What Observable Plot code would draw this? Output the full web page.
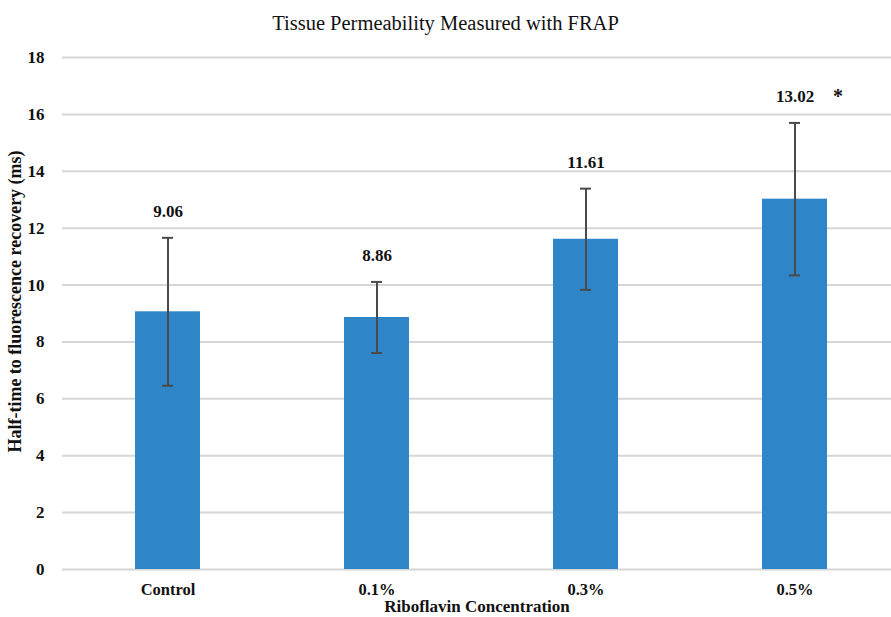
<!DOCTYPE html>
<html>
<head>
<meta charset="utf-8">
<script src="https://cdn.jsdelivr.net/npm/d3@7"></script>
<script src="https://cdn.jsdelivr.net/npm/@observablehq/plot@0.6"></script>
<style>
  body { margin: 0; background: #fff; }
  #wrap { width: 891px; font-family: "Liberation Serif", "Times New Roman", serif; }
  #title { height: 40px; line-height: 46px; text-align: center; font-size: 20.5px; color: #111; }
</style>
</head>
<body>
<div id="wrap">
  <div id="title">Tissue Permeability Measured with FRAP</div>
  <div id="chart"></div>
</div>
<script>
const categories = ["Control", "0.1%", "0.3%", "0.5%"];
const values = [9.06, 8.86, 11.61, 13.02];
const errors = [2.6, 1.25, 1.78, 2.68];
const significance = ["", "", "", "*"];
const yTicks = [0, 2, 4, 6, 8, 10, 12, 14, 16, 18];

const data = categories.map((c, i) => ({
  cat: c, value: values[i], err: errors[i],
  lo: values[i] - errors[i], hi: values[i] + errors[i],
  sig: significance[i]
}));

const font = "Liberation Serif, Times New Roman, serif";

const chart = Plot.plot({
  width: 891,
  height: 577,
  marginTop: 17,
  marginBottom: 48,
  marginLeft: 62,
  marginRight: 0,
  style: { fontFamily: font, fontSize: "16px", color: "#111", background: "#fff" },
  x: { domain: categories, range: [133, 828], paddingInner: 0.69, paddingOuter: 0, label: null },
  y: { domain: [0, 18], ticks: yTicks, label: null },
  marks: [
    Plot.ruleY(yTicks, { stroke: "#d6d6d6", strokeWidth: 2 }),
    Plot.barY(data, { x: "cat", y: "value", fill: "#2e86c8" }),
    Plot.ruleX(data, { x: "cat", y1: "lo", y2: "hi", stroke: "#4a4a4a", strokeWidth: 2 }),
    Plot.tickY(data, { x: "cat", y: "lo", stroke: "#4a4a4a", strokeWidth: 2, insetLeft: 27, insetRight: 27 }),
    Plot.tickY(data, { x: "cat", y: "hi", stroke: "#4a4a4a", strokeWidth: 2, insetLeft: 27, insetRight: 27 }),
    Plot.text(data, { x: "cat", y: "hi", text: d => d.value.toFixed(2), dy: -26, fontSize: 17, fontWeight: "bold", fill: "#111" }),
    Plot.text(data, { x: "cat", y: "hi", text: "sig", dx: 43, dy: -26, fontSize: 20, fontWeight: "bold", fill: "#111" }),
    Plot.axisY({ ticks: yTicks, tickSize: 0, tickPadding: 18, fontSize: 17, fontWeight: "bold", label: null }),
    Plot.axisX({ tickSize: 0, tickPadding: 14, fontSize: 16.5, fontWeight: "bold", label: null }),
    Plot.text(["Riboflavin Concentration"], { frameAnchor: "bottom", dy: 42, fontSize: 17, fontWeight: "bold", fill: "#111" }),
    Plot.text(["Half-time to fluorescence recovery (ms)"], { frameAnchor: "left", textAnchor: "middle", dx: -47, dy: -12, rotate: -90, fontSize: 18, fontWeight: "bold", fill: "#111" })
  ]
});
document.getElementById("chart").appendChild(chart);
</script>
</body>
</html>
